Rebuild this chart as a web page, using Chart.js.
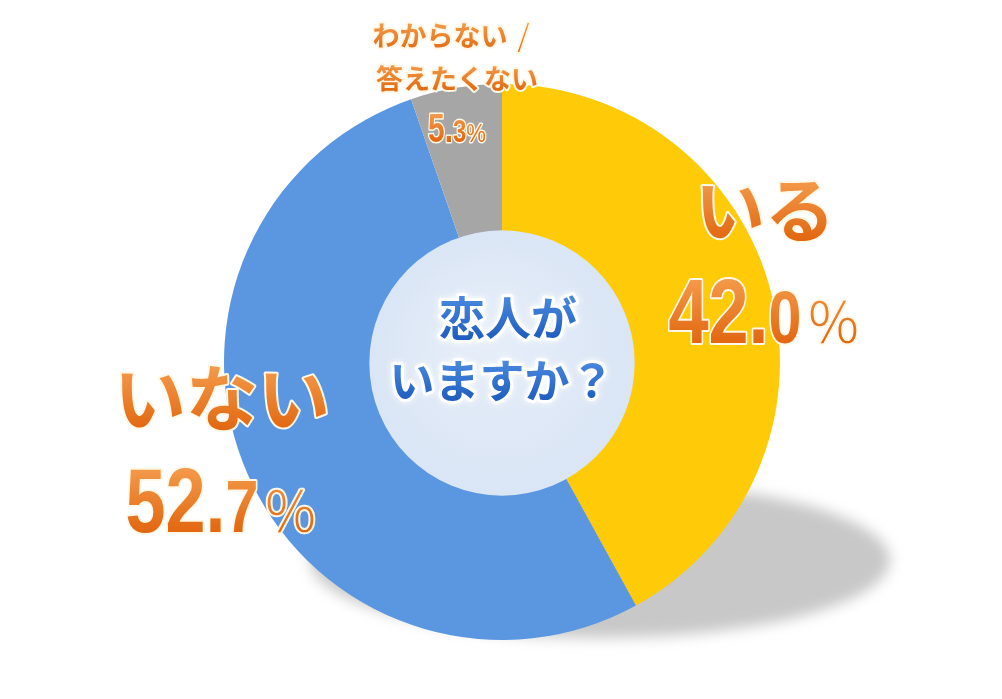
<!DOCTYPE html>
<html><head><meta charset="utf-8">
<script src="https://cdn.jsdelivr.net/npm/chart.js@4/dist/chart.umd.min.js"></script>
<style>html,body{margin:0;padding:0;background:#fff;overflow:hidden}canvas{display:block}</style>
</head><body>
<canvas id="c" width="1002" height="699"></canvas>
<script>
const categories = ['いる', 'いない', 'わからない/答えたくない'];
const values = [42.0, 52.7, 5.3];
const colors = ['#FFCA08', '#5B97E1', '#A6A6A6'];
const centerTitle = ['恋人が', 'いますか？'];

const JP = '"Noto Sans CJK JP", "Noto Sans", sans-serif';
const NUM = '"Liberation Sans", Arial, sans-serif';

function gradText(ctx, runs, x, y, opts) {
  // runs: [{text, font, sx, gap}], drawn left-to-right, centered at x
  let widths = runs.map(r => { ctx.font = r.font; return ctx.measureText(r.text).width * (r.sx || 1) + (r.gap || 0); });
  let total = widths.reduce((a, b) => a + b, 0);
  let cx = opts.align === 'left' ? x : x - total / 2;
  ctx.textBaseline = opts.baseline || 'alphabetic';
  ctx.textAlign = 'left';
  let top = Infinity, bot = -Infinity;
  runs.forEach(r => { ctx.font = r.font; const m = ctx.measureText(r.text);
    top = Math.min(top, -m.actualBoundingBoxAscent); bot = Math.max(bot, m.actualBoundingBoxDescent); });
  let px = cx;
  runs.forEach((r, i) => {
    ctx.font = r.font;
    ctx.save();
    ctx.translate(px, y);
    ctx.scale(r.sx || 1, 1);
    const g = ctx.createLinearGradient(0, top, 0, bot);
    g.addColorStop(0, opts.top); g.addColorStop(1, opts.bottom);
    ctx.save();
    if (opts.glow) { ctx.shadowColor = opts.glow; ctx.shadowBlur = 6; }
    ctx.lineJoin = 'round';
    ctx.lineWidth = opts.sw;
    ctx.strokeStyle = opts.stroke;
    ctx.strokeText(r.text, 0, 0);
    ctx.restore();
    ctx.fillStyle = g;
    ctx.fillText(r.text, 0, 0);
    ctx.restore();
    px += widths[i];
  });
}

const ORANGE = {top: '#F39A4A', bottom: '#E2660F', stroke: '#FFF8E6', sw: 4};

function pctRuns(v, big, small, pct) {
  const s = v.toFixed(1).split('.');
  return [
    {text: s[0] + '.', font: 'bold ' + big + 'px ' + NUM, sx: 0.8},
    {text: s[1], font: 'bold ' + small + 'px ' + NUM, sx: 0.8, gap: 4},
    {text: '％', font: '300 ' + pct + 'px ' + JP}
  ];
}

const labelPlugin = {
  id: 'decor',
  beforeDatasetsDraw(chart) {
    const ctx = chart.ctx;
    ctx.save();
    ctx.filter = 'blur(7px)';
    ctx.fillStyle = '#c8c8c8';
    ctx.beginPath();
    ctx.ellipse(600, 560, 290, 78, 0, 0, Math.PI * 2);
    ctx.fill();
    ctx.restore();
  },
  afterDatasetsDraw(chart) {
    const ctx = chart.ctx;
    const arc = chart.getDatasetMeta(0).data[0];
    const cx = arc.x, cy = arc.y, r = arc.innerRadius;
    // inner circle
    ctx.save();
    const rg = ctx.createRadialGradient(cx - 20, cy - 30, 10, cx, cy, r);
    rg.addColorStop(0, '#e6eef9');
    rg.addColorStop(1, '#dae5f5');
    ctx.fillStyle = rg;
    ctx.beginPath(); ctx.arc(cx, cy + 1, r + 2, 0, Math.PI * 2); ctx.fill();
    ctx.restore();

    // center title
    const BLUE = {top: '#4a8ae0', bottom: '#1d5bbd', stroke: '#ffffff', sw: 6, glow: '#ffffff', baseline: 'middle'};
    gradText(ctx, [{text: centerTitle[0], font: 'bold 46px ' + JP}], cx + 6, 318, BLUE);
    gradText(ctx, [{text: centerTitle[1], font: 'bold 45px ' + JP}], cx, 381, BLUE);

    // category labels
    gradText(ctx, [{text: categories[0], font: 'bold 70px ' + JP}], 765, 210, Object.assign({baseline: 'middle'}, ORANGE));
    gradText(ctx, pctRuns(values[0], 90, 74, 56), 765, 343, ORANGE);

    gradText(ctx, [{text: categories[1], font: 'bold 72px ' + JP}], 222, 398, Object.assign({baseline: 'middle'}, ORANGE));
    gradText(ctx, pctRuns(values[1], 90, 74, 56), 222, 532, ORANGE);

    const parts = categories[2].split('/');
    const SMALL = Object.assign({}, ORANGE, {sw: 4, baseline: 'middle'});
    gradText(ctx, [{text: parts[0], font: 'bold 27px ' + JP, gap: 10}, {text: '/', font: '300 30px ' + JP}], 451, 36, SMALL);
    gradText(ctx, [{text: parts[1], font: 'bold 27px ' + JP}], 457, 79, SMALL);
    const s = values[2].toFixed(1).split('.');
    gradText(ctx, [{text: s[0] + '.', font: 'bold 40px ' + NUM, sx: 0.75}, {text: s[1], font: 'bold 32px ' + NUM, sx: 0.75}, {text: '%', font: '300 26px ' + NUM, sx: 0.85}], 457, 142, Object.assign({}, ORANGE, {sw: 3}));
  }
};

new Chart(document.getElementById('c'), {
  type: 'doughnut',
  data: {
    labels: categories,
    datasets: [{data: values, backgroundColor: colors, borderWidth: 0, hoverOffset: 0}]
  },
  options: {
    responsive: false,
    animation: false,
    cutout: '47%',
    layout: {padding: {top: 84, bottom: 59, left: 224, right: 222}},
    plugins: {legend: {display: false}, tooltip: {enabled: false}}
  },
  plugins: [labelPlugin]
});
</script>
</body></html>
